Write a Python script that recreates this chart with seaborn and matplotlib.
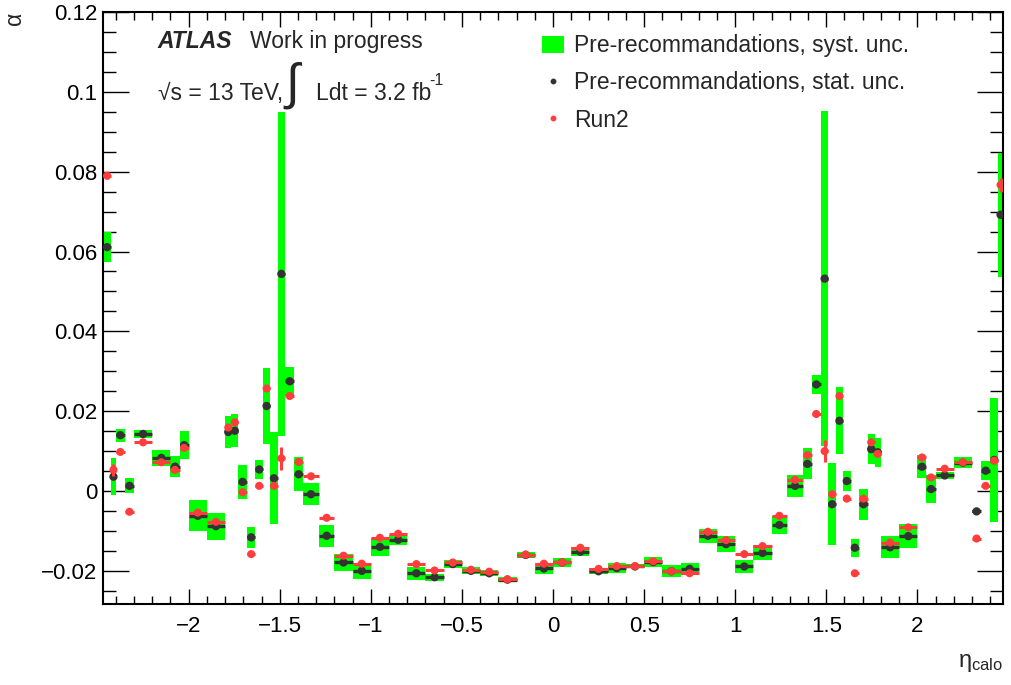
import numpy as np
import pandas as pd
import matplotlib
matplotlib.use("Agg")
import matplotlib.pyplot as plt
import seaborn as sns
from matplotlib.patches import Patch
from matplotlib.lines import Line2D
from matplotlib.ticker import MultipleLocator, FuncFormatter

# ---------------------------------------------------------
# DATA
# ---------------------------------------------------------

# eta_calo bin edges (68 bins)
eta_edges = [-2.47, -2.425, -2.4, -2.35, -2.3, -2.2, -2.1, -2.05, -2.0, -1.9, -1.8,
             -1.765, -1.728, -1.68, -1.633, -1.592, -1.552, -1.512, -1.47, -1.42,
             -1.372, -1.285, -1.2, -1.1, -1.0, -0.9, -0.8, -0.7, -0.6, -0.5, -0.4,
             -0.3, -0.2, -0.1, 0.0, 0.1, 0.2, 0.3, 0.4, 0.5, 0.6, 0.7, 0.8, 0.9,
             1.0, 1.1, 1.2, 1.285, 1.372, 1.42, 1.47, 1.512, 1.552, 1.592, 1.633,
             1.68, 1.728, 1.765, 1.8, 1.9, 2.0, 2.05, 2.1, 2.2, 2.3, 2.35, 2.4,
             2.443, 2.47]

# pre-recommandations: central value
alpha_pre = [0.0611, 0.0036, 0.0140, 0.0013, 0.0143, 0.0083, 0.0061, 0.0115, -0.0062, -0.0088,
             0.0148, 0.0151, 0.0023, -0.0116, 0.0054, 0.0213, 0.0032, 0.0544, 0.0275, 0.0042,
             -0.0008, -0.0112, -0.0179, -0.0200, -0.0140, -0.0122, -0.0206, -0.0216, -0.0183, -0.0200,
             -0.0206, -0.0222, -0.0160, -0.0194, -0.0179, -0.0152, -0.0201, -0.0193, -0.0189, -0.0178,
             -0.0201, -0.0195, -0.0112, -0.0133, -0.0189, -0.0155, -0.0085, 0.0013, 0.0068, 0.0267,
             0.0532, -0.0033, 0.0176, 0.0025, -0.0142, -0.0033, 0.0105, 0.0097, -0.0141, -0.0113,
             0.0061, 0.0005, 0.0039, 0.0071, -0.0051, 0.0051, 0.0078, 0.0692]

# pre-recommandations: systematic uncertainty (half height of green box)
alpha_pre_syst = [0.0038, 0.0046, 0.0016, 0.0019, 0.0011, 0.0021, 0.0027, 0.0035, 0.0039, 0.0034,
                  0.0040, 0.0041, 0.0042, 0.0026, 0.0023, 0.0096, 0.0115, 0.0405, 0.0036, 0.0043,
                  0.0028, 0.0028, 0.0021, 0.0020, 0.0023, 0.0013, 0.0016, 0.0009, 0.0009, 0.0009,
                  0.0008, 0.0007, 0.0008, 0.0014, 0.0012, 0.0012, 0.0008, 0.0012, 0.0005, 0.0012,
                  0.0015, 0.0015, 0.0017, 0.0020, 0.0017, 0.0019, 0.0022, 0.0027, 0.0039, 0.0023,
                  0.0420, 0.0103, 0.0084, 0.0025, 0.0023, 0.0039, 0.0037, 0.0036, 0.0028, 0.0030,
                  0.0029, 0.0034, 0.0009, 0.0013, 0.0003, 0.0024, 0.0155, 0.0155]

# pre-recommandations: statistical uncertainty
alpha_pre_stat = [0.0008, 0.0004, 0.0003, 0.0003, 0.0003, 0.0003, 0.0003, 0.0003, 0.0003, 0.0003,
                  0.0003, 0.0003, 0.0003, 0.0003, 0.0003, 0.0004, 0.0003, 0.0007, 0.0003, 0.0003,
                  0.0003, 0.0003, 0.0003, 0.0003, 0.0003, 0.0003, 0.0003, 0.0003, 0.0003, 0.0003,
                  0.0003, 0.0003, 0.0003, 0.0003, 0.0003, 0.0003, 0.0003, 0.0003, 0.0003, 0.0003,
                  0.0003, 0.0003, 0.0003, 0.0003, 0.0003, 0.0003, 0.0003, 0.0003, 0.0003, 0.0004,
                  0.0007, 0.0003, 0.0003, 0.0003, 0.0003, 0.0003, 0.0003, 0.0003, 0.0003, 0.0003,
                  0.0003, 0.0003, 0.0003, 0.0003, 0.0003, 0.0003, 0.0004, 0.0009]

# Run2 values and uncertainty
alpha_run2 = [0.0790, 0.0053, 0.0098, -0.0052, 0.0122, 0.0072, 0.0053, 0.0108, -0.0054, -0.0077,
              0.0159, 0.0172, -0.0003, -0.0158, 0.0013, 0.0257, 0.0013, 0.0082, 0.0238, 0.0073,
              0.0037, -0.0067, -0.0162, -0.0182, -0.0117, -0.0107, -0.0183, -0.0199, -0.0179, -0.0197,
              -0.0202, -0.0221, -0.0159, -0.0182, -0.0179, -0.0142, -0.0195, -0.0188, -0.0188, -0.0176,
              -0.0201, -0.0206, -0.0102, -0.0123, -0.0158, -0.0138, -0.0062, 0.0028, 0.0090, 0.0193,
              0.0100, -0.0008, 0.0238, -0.0019, -0.0206, -0.0019, 0.0122, 0.0093, -0.0129, -0.0091,
              0.0084, 0.0034, 0.0056, 0.0072, -0.0119, 0.0013, 0.0076, 0.0767]

alpha_run2_err = [0.0009, 0.0015, 0.0003, 0.0003, 0.0003, 0.0003, 0.0003, 0.0003, 0.0003, 0.0003,
                  0.0003, 0.0003, 0.0003, 0.0003, 0.0003, 0.0004, 0.0008, 0.0029, 0.0003, 0.0003,
                  0.0003, 0.0003, 0.0003, 0.0003, 0.0003, 0.0003, 0.0003, 0.0003, 0.0003, 0.0003,
                  0.0003, 0.0003, 0.0003, 0.0003, 0.0003, 0.0003, 0.0003, 0.0003, 0.0003, 0.0003,
                  0.0003, 0.0003, 0.0003, 0.0003, 0.0003, 0.0003, 0.0003, 0.0003, 0.0003, 0.0003,
                  0.0028, 0.0010, 0.0003, 0.0003, 0.0003, 0.0003, 0.0003, 0.0003, 0.0003, 0.0003,
                  0.0003, 0.0003, 0.0003, 0.0003, 0.0003, 0.0003, 0.0009, 0.0017]

legend_labels = ["Pre-recommandations, syst. unc.",
                 "Pre-recommandations, stat. unc.",
                 "Run2"]

# ---------------------------------------------------------
# DATAFRAME
# ---------------------------------------------------------

edges = np.array(eta_edges)
df = pd.DataFrame({
    "lo": edges[:-1],
    "hi": edges[1:],
    "pre": alpha_pre,
    "syst": alpha_pre_syst,
    "stat": alpha_pre_stat,
    "run2": alpha_run2,
    "run2_err": alpha_run2_err,
})
df["eta"] = 0.5 * (df["lo"] + df["hi"])
df["half"] = 0.5 * (df["hi"] - df["lo"])

GREEN = "#00ff00"
DARK = "#333333"
RED = "#ff3d3d"

# ---------------------------------------------------------
# PLOT
# ---------------------------------------------------------

sns.set_theme(style="ticks")
plt.rcParams["font.family"] = ["Liberation Sans", "DejaVu Sans"]
plt.rcParams["mathtext.default"] = "regular"
plt.rcParams["axes.unicode_minus"] = True

fig = plt.figure(figsize=(10.11, 6.85), dpi=100)
ax = fig.add_axes([103 / 1011, 81 / 685, 900 / 1011, 592 / 685])

# syst boxes
ax.bar(df["lo"], 2 * df["syst"], width=df["hi"] - df["lo"], bottom=df["pre"] - df["syst"],
       align="edge", color=GREEN, edgecolor="none", zorder=1)

# pre-recommandations with stat errors
ax.errorbar(df["eta"], df["pre"], xerr=df["half"], yerr=df["stat"], fmt="none",
            ecolor=DARK, elinewidth=2.4, capsize=0, zorder=2)
sns.scatterplot(data=df, x="eta", y="pre", color=DARK, s=36, edgecolor="none",
                zorder=3, ax=ax, legend=False)

# Run2
ax.errorbar(df["eta"], df["run2"], xerr=df["half"], yerr=df["run2_err"], fmt="none",
            ecolor=RED, elinewidth=2.2, capsize=0, zorder=4)
sns.scatterplot(data=df, x="eta", y="run2", color=RED, s=34, edgecolor="none",
                zorder=5, ax=ax, legend=False)

ax.set_xlim(-2.47, 2.47)
ax.set_ylim(-0.0283, 0.12)
ax.set_xlabel("")
ax.set_ylabel("")

fmt = FuncFormatter(lambda v, p: ("%g" % round(v, 4)).replace("-", "\u2212"))
ax.xaxis.set_major_locator(MultipleLocator(0.5))
ax.xaxis.set_minor_locator(MultipleLocator(0.1))
ax.yaxis.set_major_locator(MultipleLocator(0.02))
ax.yaxis.set_minor_locator(MultipleLocator(0.005))
ax.xaxis.set_major_formatter(fmt)
ax.yaxis.set_major_formatter(fmt)

ax.tick_params(axis="both", which="both", direction="in", top=True, right=True,
               colors="black", labelsize=16, width=1.0)
ax.tick_params(axis="x", which="major", length=11, pad=9)
ax.tick_params(axis="x", which="minor", length=5.5)
ax.tick_params(axis="y", which="major", length=19, pad=4)
ax.tick_params(axis="y", which="minor", length=9.5)
for sp in ax.spines.values():
    sp.set_linewidth(1.5)
    sp.set_color("black")

# axis titles
fig.text(15 / 1011, 1 - 18 / 685, "\u03b1", rotation=90, ha="center", va="center",
         fontsize=16.5)
fig.text(1003 / 1011, 1 - 663 / 685, "\u03b7$_{calo}$", ha="right", va="center",
         fontsize=17)

# ATLAS label
ax.text(0.0605, 0.951, "ATLAS", transform=ax.transAxes, fontsize=16.5,
        fontweight="bold", fontstyle="italic", va="center", ha="left")
ax.text(0.163, 0.951, "Work in progress", transform=ax.transAxes, fontsize=16.5,
        va="center", ha="left")
ax.text(0.061, 0.862, "\u221as = 13 TeV,", transform=ax.transAxes, fontsize=16.5,
        va="center", ha="left")
ax.text(0.203, 0.877, "\u222b", transform=ax.transAxes, fontsize=36,
        va="center", ha="left")
ax.text(0.237, 0.862, "Ldt = 3.2 fb", transform=ax.transAxes, fontsize=16.5,
        va="center", ha="left")
ax.text(0.362, 0.884, "-1", transform=ax.transAxes, fontsize=11.5,
        va="center", ha="left")

handles = [Patch(facecolor=GREEN, edgecolor="none"),
           Line2D([], [], marker="o", ls="none", color=DARK, markersize=3.2),
           Line2D([], [], marker="o", ls="none", color=RED, markersize=3.2)]
ax.legend(handles, legend_labels, loc="upper left", bbox_to_anchor=(0.478, 0.978),
          frameon=False, fontsize=16.5, handlelength=0.95, handleheight=0.75,
          handletextpad=0.45, labelspacing=0.62, borderaxespad=0)

fig.savefig("out.png", dpi=100)
